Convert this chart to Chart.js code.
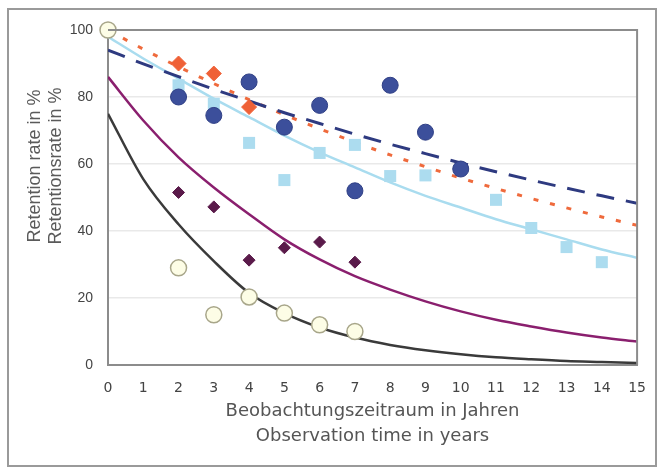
<!DOCTYPE html>
<html>
<head>
<meta charset="utf-8">
<script src="https://cdn.jsdelivr.net/npm/chart.js@4.4.1/dist/chart.umd.min.js"></script>
<style>
    body { margin: 0; background: #fff; }
    #wrap { position: relative; width: 661px; height: 468px; }
    #frame { position: absolute; left: 7px; top: 8px; width: 646px; height: 455px; border: 2px solid #9a9a9a; }
</style>
</head>
<body>
<div id="wrap">
    <div id="frame"></div>
    <canvas id="myChart" width="661" height="468"></canvas>
</div>
<script>
// years on the x axis
var years = [0, 1, 2, 3, 4, 5, 6, 7, 8, 9, 10, 11, 12, 13, 14, 15];
var yTicks = [0, 20, 40, 60, 80, 100];

// measured points
var blueX = [2, 3, 4, 5, 6, 7, 8, 9, 10];
var blueY = [80, 74.5, 84.5, 71, 77.5, 52, 83.5, 69.5, 58.5];
var orangeX = [2, 3, 4];
var orangeY = [90, 87, 77];
var skyX = [2, 3, 4, 5, 6, 7, 8, 9, 11, 12, 13, 14];
var skyY = [83.5, 78, 66.3, 55.2, 63.3, 65.7, 56.4, 56.6, 49.3, 40.9, 35.2, 30.7];
var plumX = [2, 3, 4, 5, 6, 7];
var plumY = [51.5, 47.2, 31.3, 35, 36.7, 30.7];
var paleX = [0, 2, 3, 4, 5, 6, 7];
var paleY = [100, 29, 15, 20.3, 15.5, 12, 10];

var blueFit = [94, 89.9, 86.1, 82.3, 78.8, 75.3, 72.1, 68.9, 65.9, 63.1, 60.3, 57.7, 55.2, 52.8, 50.5, 48.3];
var orangeFit = [100, 94.3, 89, 84, 79.2, 74.7, 70.5, 66.5, 62.7, 59.2, 55.8, 52.7, 49.7, 46.9, 44.2, 41.7];
var skyFit = [98, 91.5, 85.5, 79.5, 74, 68.5, 63.5, 59, 54.5, 50.5, 47, 43.5, 40.5, 37.5, 34.5, 32];
var plumFit = [86, 73, 62, 53, 45, 37.5, 31.5, 26.5, 22.5, 19, 16, 13.5, 11.5, 9.7, 8.2, 7];
var darkFit = [75, 55.5, 42, 31, 21.5, 15.5, 11.2, 8.2, 6, 4.4, 3.2, 2.3, 1.7, 1.2, 0.9, 0.6];

function pts(xs, ys) {
    return xs.map(function(x, i) { return { x: x, y: ys[i] }; });
}

function pointSet(xs, ys, style, r, fill, edge, bw) {
    return {
        type: 'scatter',
        data: pts(xs, ys),
        pointStyle: style,
        pointRadius: r,
        pointHoverRadius: r,
        backgroundColor: fill,
        borderColor: edge,
        borderWidth: bw,
        clip: false
    };
}

function lineSet(ys, color, width, dash) {
    return {
        type: 'line',
        data: pts(years, ys),
        borderColor: color,
        borderWidth: width,
        borderDash: dash,
        pointRadius: 0,
        fill: false,
        cubicInterpolationMode: 'monotone'
    };
}

// plot frame + axis titles
var extras = {
    id: 'extras',
    afterDatasetsDraw: function(chart) {
        var a = chart.chartArea;
        var ctx = chart.ctx;
        ctx.save();
        ctx.strokeStyle = '#8c8c8c';
        ctx.lineWidth = 2;
        ctx.beginPath();
        ctx.moveTo(a.left, a.top);
        ctx.lineTo(a.right, a.top);
        ctx.lineTo(a.right, a.bottom);
        ctx.stroke();
        ctx.restore();
    },
    afterDraw: function(chart) {
        var a = chart.chartArea;
        var ctx = chart.ctx;
        ctx.save();
        ctx.fillStyle = '#555';
        ctx.textAlign = 'center';
        ctx.textBaseline = 'middle';
        ctx.font = '18px "DejaVu Sans"';
        var cx = (a.left + a.right) / 2;
        ctx.fillText('Beobachtungszeitraum in Jahren', cx, 411);
        ctx.fillText('Observation time in years', cx, 436);
        ctx.translate(0, 166);
        ctx.rotate(-Math.PI / 2);
        ctx.fillStyle = '#5a5a5a';
        ctx.font = '18px "Liberation Sans"';
        ctx.fillText('Retention rate in %', 0, 35);
        ctx.fillText('Retentionsrate in %', 0, 56);
        ctx.restore();
    }
};

var grapharea = document.getElementById('myChart');
const config = {
    data: {
        datasets: [
            pointSet(paleX, paleY, 'circle', 8, '#fdfde6', '#a8a68a', 1.5),
            pointSet(plumX, plumY, 'rectRot', 6, '#5a1a4a', '#5a1a4a', 1),
            pointSet(orangeX, orangeY, 'rectRot', 7.5, '#ef6137', '#ef6137', 1),
            pointSet(blueX, blueY, 'circle', 8, '#3c4f9b', '#2f3f85', 1),
            pointSet(skyX, skyY, 'rect', 8.5, '#acdcef', '#acdcef', 0),
            lineSet(blueFit, '#2e3a80', 3, [18, 12]),
            lineSet(orangeFit, '#ef6a3c', 3, [5, 12]),
            lineSet(skyFit, '#a9dcef', 2.5, []),
            lineSet(plumFit, '#8a1f6e', 2.5, []),
            lineSet(darkFit, '#3a3a3a', 2.5, [])
        ]
    },
    options: {
        responsive: false,
        animation: false,
        events: [],
        layout: { padding: { top: 30, right: 21, left: 0, bottom: 0 } },
        plugins: { legend: { display: false }, tooltip: { enabled: false } },
        scales: {
            x: {
                type: 'linear',
                min: 0,
                max: 15,
                afterFit: function(s) { s.height = 103; },
                grid: { display: false, drawTicks: false },
                border: { color: '#8c8c8c', width: 2 },
                ticks: {
                    stepSize: 1,
                    padding: 15,
                    color: '#444',
                    font: { family: 'DejaVu Sans', size: 14 }
                }
            },
            y: {
                min: 0,
                max: 100,
                afterFit: function(s) { s.width = 108; },
                afterBuildTicks: function(s) { s.ticks = yTicks.map(function(v) { return { value: v }; }); },
                grid: {
                    drawTicks: false,
                    lineWidth: 1.5,
                    color: function(c) {
                        return (c.tick && (c.tick.value === 0 || c.tick.value === 100)) ? 'rgba(0,0,0,0)' : '#e9e9e9';
                    }
                },
                border: { color: '#8c8c8c', width: 2 },
                ticks: {
                    padding: 15,
                    color: '#444',
                    font: { family: 'Liberation Sans', size: 14 }
                }
            }
        }
    },
    plugins: [extras]
};
const myChart = new Chart(grapharea, config);
</script>
</body>
</html>
